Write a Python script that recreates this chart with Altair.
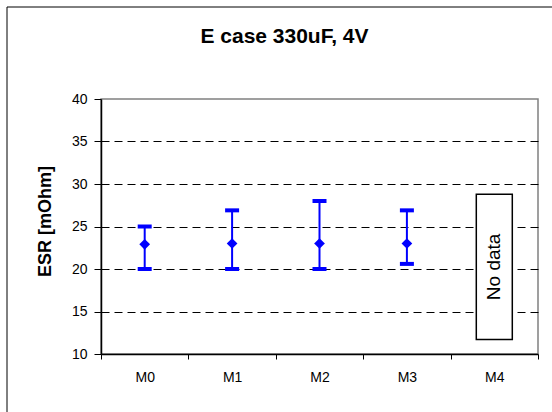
import altair as alt
import pandas as pd

# ESR per module (mOhm): typical value with min/max spread
categories = ["M0", "M1", "M2", "M3", "M4"]
measured = ["M0", "M1", "M2", "M3"]
esr_typ = [22.9, 23.0, 23.0, 23.0]
esr_min = [20.0, 20.0, 20.0, 20.6]
esr_max = [25.0, 26.9, 28.0, 26.9]

# placeholder box for the module without measurements
nodata_cat = ["M4"]
nodata_top = [28.8]
nodata_bottom = [11.7]
nodata_text = ["No data"]

y_ticks = [10, 15, 20, 25, 30, 35, 40]

FONT = "Liberation Sans"
BLUE = "#0000FF"

df = pd.DataFrame({"module": measured, "typ": esr_typ, "lo": esr_min, "hi": esr_max})
box = pd.DataFrame({"module": nodata_cat, "top": nodata_top,
                    "bottom": nodata_bottom, "label": nodata_text})
box["mid"] = (box["top"] + box["bottom"]) / 2

x_enc = alt.X(
    "module:N",
    scale=alt.Scale(domain=categories, paddingInner=0, paddingOuter=0),
    axis=alt.Axis(
        title=None, labelAngle=0, tickBand="extent", tickSize=5,
        labelPadding=11, labelFontSize=14, labelFont=FONT, labelColor="black",
        domainColor="black", domainWidth=1.5, tickColor="black", grid=False,
    ),
)
y_scale = alt.Scale(domain=[10, 40], nice=False, zero=False)
y_axis = alt.Axis(
    title="ESR [mOhm]", values=y_ticks, tickSize=7, labelPadding=7,
    labelFontSize=14, labelFont=FONT, labelColor="black",
    domainColor="black", domainWidth=1.5, tickColor="black",
    grid=True, gridColor="black", gridDash=[8, 5], gridWidth=1,
    gridOpacity=alt.condition("datum.value == 40 || datum.value == 10",
                              alt.value(0), alt.value(1)),
    titleFont=FONT, titleFontSize=18, titleFontWeight="bold", titleColor="black",
    titleAngle=270, titleAlign="center", titleBaseline="middle",
    titleX=-56, titleY=122,
)

base = alt.Chart(df)

spread = base.mark_rule(color=BLUE, strokeWidth=2).encode(
    x=x_enc, y=alt.Y("lo:Q", scale=y_scale, axis=y_axis), y2="hi:Q"
)
cap_lo = base.mark_tick(color=BLUE, thickness=4, size=14, opacity=1).encode(
    x=x_enc, y=alt.Y("lo:Q", scale=y_scale)
)
cap_hi = base.mark_tick(color=BLUE, thickness=4, size=14, opacity=1).encode(
    x=x_enc, y=alt.Y("hi:Q", scale=y_scale)
)
typ = base.mark_point(shape="diamond", filled=True, size=115, color=BLUE, opacity=1).encode(
    x=x_enc, y=alt.Y("typ:Q", scale=y_scale)
)

nodata_box = alt.Chart(box).mark_bar(
    size=36, fill="white", stroke="black", strokeWidth=1.5
).encode(x=x_enc, y=alt.Y("top:Q", scale=y_scale), y2="bottom:Q")
nodata_label = alt.Chart(box).mark_text(
    angle=270, fontSize=19, font=FONT, color="black"
).encode(x=x_enc, y=alt.Y("mid:Q", scale=y_scale), text="label:N")

# thin outer frame around the whole chart
frame = alt.Chart(pd.DataFrame({"f": [0]})).mark_rect(
    fill="white", fillOpacity=0, stroke="black", strokeWidth=1
).encode(x=alt.value(-94), x2=alt.value(460), y=alt.value(-92), y2=alt.value(322))

chart = alt.layer(
    frame, spread, cap_lo, cap_hi, typ, nodata_box, nodata_label
).properties(
    width=437, height=255,
    title=alt.Title("E case 330uF, 4V", font=FONT, fontSize=21, fontWeight="bold",
                    color="black", anchor="middle", dx=-35, offset=-40),
    autosize=alt.AutoSizeParams(type="none"),
    padding={"left": 101, "top": 99, "right": 14, "bottom": 58},
    background="white",
).configure_view(stroke="#808080", strokeWidth=1.5)

chart.save("out.html", embed_options={"renderer": "svg", "actions": False})
